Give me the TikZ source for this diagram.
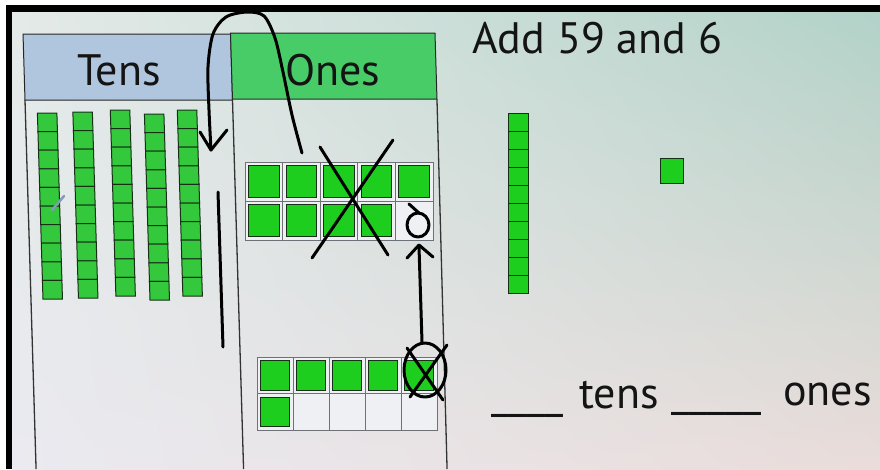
\documentclass[tikz,border=0pt]{standalone}
\usepackage{fontspec}
\setmainfont{PT Sans}
\usetikzlibrary{shadings}
\definecolor{boardul}{RGB}{228,234,232}
\definecolor{boardur}{RGB}{178,210,200}
\definecolor{boardll}{RGB}{234,234,240}
\definecolor{boardlr}{RGB}{234,220,218}
\definecolor{tensblue}{RGB}{176,198,222}
\definecolor{onesgreen}{RGB}{72,204,104}
\definecolor{rodgreen}{RGB}{52,200,60}
\definecolor{cubegreen}{RGB}{30,206,30}
\definecolor{cubeedge}{RGB}{22,48,22}
\definecolor{cellgray}{RGB}{110,114,118}
\definecolor{cellfill}{RGB}{238,240,244}
\definecolor{tickblue}{RGB}{130,156,184}
\tikzset{
  rodcube/.style={fill=rodgreen, draw=cubeedge, line width=1pt},
  cube/.style={fill=cubegreen, draw=cubeedge, line width=1pt},
  cell/.style={fill=cellfill, draw=cellgray, line width=1pt},
  hdr/.style={draw=black!85, line width=1pt},
  colline/.style={black!80, line width=1.3pt},
  ink/.style={black, line width=3pt, line cap=round, line join=round},
  ttl/.style={font=\fontsize{44}{50}\selectfont, text=black!92, anchor=base west, inner sep=0pt},
  ans/.style={font=\fontsize{44}{50}\selectfont, text=black!92, anchor=base west, inner sep=0pt},
}

\begin{document}
\begin{tikzpicture}[x=1pt, y=-1pt]
\useasboundingbox (0,0) rectangle (880,469);
\fill[white] (0,0) rectangle (880,469);
\shade[upper left=boardul, upper right=boardur, lower left=boardll, lower right=boardlr]
  (12,12) rectangle (880,469);
% place value chart, seen a little slanted
\begin{scope}[xslant=-0.03]
  \filldraw[hdr, fill=tensblue] (22,34) rectangle (229.5,100);
  \filldraw[hdr, fill=onesgreen] (229.5,33) rectangle (434,99);
  \draw[colline] (22,100) -- (22,469);
  \draw[colline] (229.5,100) -- (229.5,469);
  \draw[colline] (434,99) -- (433,469);
  \foreach \x/\t in {34/113, 69.5/112, 107/110, 141/114, 174/110}
    \foreach \k in {0,...,9}
      \draw[rodcube] (\x,{\t+18.6*\k}) rectangle +(19.5,18.6);
\end{scope}
\node[ttl] (tens) at (77,85) {Tens};
\node[ttl] (ones) at (285,85) {Ones};
\draw[tickblue, line width=2.5pt, line cap=round] (52,210) -- (64,196);
% ten frames
\foreach \c in {0,...,4}
  \foreach \r in {0,1}
    \draw[cell] ({245+37.6*\c},{162+39*\r}) rectangle +(37.6,39);
\foreach \c/\r in {0/0,1/0,2/0,3/0,4/0,0/1,1/1,2/1,3/1}
  \draw[cube] ({248.5+37.6*\c},{165.5+39*\r}) rectangle +(30.6,32);
\foreach \c in {0,...,4}
  \foreach \r in {0,1}
    \draw[cell] ({257+36*\c},{357+36.5*\r}) rectangle +(36,36.5);
\foreach \c/\r in {0/0,1/0,2/0,3/0,4/0,0/1}
  \draw[cube] ({260.5+36*\c},{360.5+36.5*\r}) rectangle +(29,29.5);
% right side
\node[ttl] (task) at (472,53) {Add 59 and 6};
\foreach \k in {0,...,9}
  \draw[cube] (508,{113+18*\k}) rectangle +(20,18);
\draw[cube] (660,158) rectangle (683,183);
\node[ans] (blank1) at (491,408) {\_\_\_\_};
\node[ans] (tenstxt) at (579,408) {tens};
\node[ans] (blank2) at (671,406) {\_\_\_\_\_};
\node[ans] (onestxt) at (783,405) {ones};
% pen marks
\draw[ink] plot[smooth] coordinates {(302,153) (292,115) (283,72) (275,38) (264,16) (247,12) (226,17) (213,34) (208,67) (209,110) (211,150)};
\draw[ink] (200,132) -- (211,150) -- (227,130);
\draw[ink] (218,192) -- (223,347);
\draw[ink] (320,147) -- (388,255);
\draw[ink] (393,140) -- (312,258);
\draw[ink] (418,225) ellipse (11 and 12);
\draw[ink] (409,204) -- (419,213);
\draw[ink] (422,342) -- (419,247);
\draw[ink] (407,258) -- (419,245) -- (433,257);
\draw[ink] (425,370) ellipse (21 and 27);
\draw[ink] (407,348) -- (443,400);
\draw[ink] (447,345) -- (410,397);
% screen edge
\fill[black] (6,5) rectangle (880,12);
\fill[black] (6,5) rectangle (12,469);
\end{tikzpicture}
\end{document}
